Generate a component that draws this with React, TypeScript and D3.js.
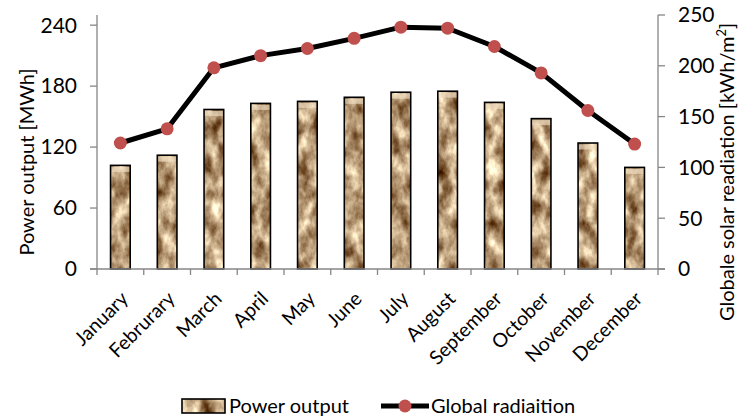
import React from "react";
import * as d3 from "d3";

const months = ["January", "Februrary", "March", "April", "May", "June", "July", "August", "September", "October", "November", "December"];
const powerOutput = [102, 112, 157, 163, 165, 169, 174, 175, 164, 148, 124, 100];
const globalRadiation = [124, 138, 198, 210, 217, 227, 238, 237, 219, 193, 156, 123];
const leftTicks = [0, 60, 120, 180, 240];
const rightTicks = [0, 50, 100, 150, 200, 250];

const W = 740;
const H = 420;
const M = { left: 97, right: 82, top: 15, bottom: 151 };
const FONT = "Lato, 'Open Sans', sans-serif";
const AXIS = "#868686";

export default function App() {
  const x0 = M.left;
  const x1 = W - M.right;
  const y0 = H - M.bottom;
  const y1 = M.top;

  const x = d3.scaleBand<string>().domain(months).range([x0, x1]).paddingInner(0).paddingOuter(0);
  const yL = d3.scaleLinear().domain([0, 250]).range([y0, y1]);
  const yR = d3.scaleLinear().domain([0, 250]).range([y0, y1]);
  const bw = x.bandwidth() * 0.42;
  const cx = (m: string) => (x(m) ?? 0) + x.bandwidth() / 2;

  const line = d3
    .line<number>()
    .x((_, i) => cx(months[i]))
    .y((d) => yR(d));

  const boundaries = d3.range(months.length + 1).map((i) => x0 + i * x.bandwidth());

  return (
    <svg width={W} height={H} style={{ position: "absolute", left: 0, top: 0, background: "#fff" }} fontFamily={FONT}>
      <defs>
        <filter id="stone" x="0" y="0" width="1" height="1" colorInterpolationFilters="sRGB">
          <feTurbulence type="fractalNoise" baseFrequency="0.08 0.05" numOctaves={4} seed={7} result="noise" />
          <feColorMatrix
            in="noise"
            type="matrix"
            values="1.125 0 0 0 0.1625  1.25 0 0 0 -0.015  1.25 0 0 0 -0.155  0 0 0 0 1"
            result="tint"
          />
          <feComposite in="tint" in2="SourceGraphic" operator="in" />
        </filter>
      </defs>

      {/* bars */}
      {powerOutput.map((v, i) => {
        const m = months[i];
        const bx = cx(m) - bw / 2;
        const by = yL(v);
        const bh = y0 - by;
        return (
          <g key={m}>
            <rect x={bx} y={by} width={bw} height={bh} fill="#c9a97f" filter="url(#stone)" />
            <rect x={bx} y={by + 1.5} width={bw} height={5} fill="#f0dfc3" opacity={0.65} />
            <rect x={bx} y={by} width={bw} height={bh} fill="none" stroke="#000" strokeWidth={1.6} />
          </g>
        );
      })}

      {/* axes */}
      <line x1={x0} x2={x0} y1={y1} y2={y0} stroke={AXIS} strokeWidth={1.3} />
      <line x1={x1} x2={x1} y1={y1} y2={y0} stroke={AXIS} strokeWidth={1.3} />
      <line x1={x0 - 7} x2={x1 + 7} y1={y0} y2={y0} stroke={AXIS} strokeWidth={1.3} />
      {boundaries.map((bx, i) => (
        <line key={i} x1={bx} x2={bx} y1={y0} y2={y0 + 6} stroke={AXIS} strokeWidth={1.3} />
      ))}
      {leftTicks.map((t) => (
        <g key={"l" + t}>
          <line x1={x0 - 7} x2={x0} y1={yL(t)} y2={yL(t)} stroke={AXIS} strokeWidth={1.3} />
          <text x={x0 - 20} y={yL(t)} dy="0.35em" textAnchor="end" fontSize={21} fill="#000">
            {t}
          </text>
        </g>
      ))}
      {rightTicks.map((t) => (
        <g key={"r" + t}>
          <line x1={x1} x2={x1 + 7} y1={yR(t)} y2={yR(t)} stroke={AXIS} strokeWidth={1.3} />
          <text x={x1 + 20} y={yR(t)} dy="0.35em" textAnchor="start" fontSize={21} fill="#000">
            {t}
          </text>
        </g>
      ))}

      {/* month labels */}
      {months.map((m) => (
        <text
          key={m}
          transform={`translate(${cx(m) + 9},${y0 + 31}) rotate(-45)`}
          textAnchor="end"
          fontSize={19.5}
          fill="#000"
        >
          {m}
        </text>
      ))}

      {/* axis titles */}
      <text transform={`translate(34,162) rotate(-90)`} textAnchor="middle" fontSize={20} fill="#000">
        Power output [MWh]
      </text>
      <text transform={`translate(734,172) rotate(-90)`} textAnchor="middle" fontSize={20} fill="#000">
        Globale solar readiation [kWh/m<tspan dy="-8" fontSize={13}>2</tspan><tspan dy="8">]</tspan>
      </text>

      {/* radiation line */}
      <path d={line(globalRadiation) ?? ""} fill="none" stroke="#000" strokeWidth={5} strokeLinejoin="round" />
      {globalRadiation.map((v, i) => (
        <circle key={i} cx={cx(months[i])} cy={yR(v)} r={6.5} fill="#c0504d" />
      ))}

      {/* legend */}
      <g>
        <rect x={182} y={399} width={43} height={14} fill="#c9a97f" filter="url(#stone)" />
        <rect x={182} y={399} width={43} height={14} fill="none" stroke="#000" strokeWidth={1.6} />
        <text x={229} y={406} dy="0.35em" fontSize={20} fill="#000">
          Power output
        </text>
        <line x1={381} x2={429} y1={406} y2={406} stroke="#000" strokeWidth={5} />
        <circle cx={405} cy={406} r={6.5} fill="#c0504d" />
        <text x={431} y={406} dy="0.35em" fontSize={20} fill="#000">
          Global radiaition
        </text>
      </g>
    </svg>
  );
}
